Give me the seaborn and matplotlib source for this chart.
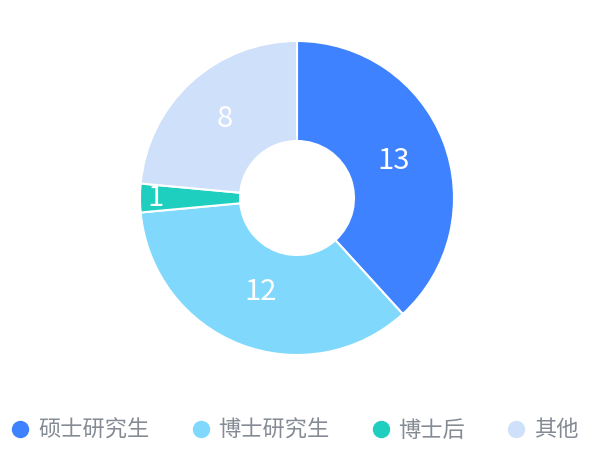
import numpy as np
import matplotlib
matplotlib.use("Agg")
import matplotlib.pyplot as plt
import seaborn as sns
from matplotlib.lines import Line2D

categories = ["硕士研究生", "博士研究生", "博士后", "其他"]
values = [13, 12, 1, 8]
colors = ["#3f82ff", "#80d9fc", "#1ecfbf", "#cfe0fa"]
label_radius = [0.66, 0.64, 0.90, 0.68]

sns.set_theme(style="white")
plt.rcParams['font.family'] = ['Noto Sans CJK SC', 'DejaVu Sans']

fig = plt.figure(figsize=(6.0, 4.51), dpi=100)
ax = fig.add_axes([140/600, (451-355)/451, 314/600, 314/451])

wedges, _ = ax.pie(values, colors=colors, startangle=90, counterclock=False,
                   radius=1.0, wedgeprops=dict(width=1-57/157, edgecolor="white", linewidth=1.5))
ax.set_xlim(-1, 1)
ax.set_ylim(-1, 1)
ax.set_aspect("equal")
ax.axis("off")

total = sum(values)
cum = 0
for v, r in zip(values, label_radius):
    mid = (cum + v / 2) / total * 2 * np.pi
    cum += v
    x, y = r * np.sin(mid), r * np.cos(mid)
    ax.text(x, y, str(v), ha="center", va="center", color="white",
            fontsize=21, fontweight="light")

handles = [Line2D([0], [0], marker="o", linestyle="none", markersize=11.5,
                  markerfacecolor=c, markeredgecolor=c) for c in colors]
leg = fig.legend(handles, categories, loc="center", bbox_to_anchor=(294/600, 1 - 430/451),
                 ncol=4, frameon=False, fontsize=16, handletextpad=0.3,
                 columnspacing=1.8, handlelength=1.0, labelcolor="#858b94")

fig.savefig("out.png", dpi=100)
